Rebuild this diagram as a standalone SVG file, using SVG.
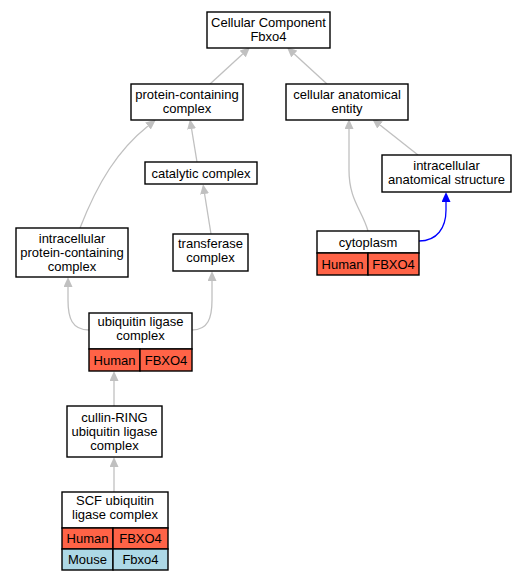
<svg xmlns="http://www.w3.org/2000/svg" width="527" height="581" viewBox="0 0 527 581">
<defs>
<style>
.box{fill:#fff;stroke:#000;stroke-width:1.4}
.hum{fill:#ff6347;stroke:#000;stroke-width:1.4}
.mou{fill:#add8e6;stroke:#000;stroke-width:1.4}
text{font-family:"Liberation Sans",Arial,sans-serif;font-size:13px;text-anchor:middle;fill:#000}
.e{fill:none;stroke:#c0c0c0;stroke-width:1.3;marker-end:url(#ag)}
.b{fill:none;stroke:#0000ff;stroke-width:1.3;marker-end:url(#ab)}
</style>
<marker id="ag" markerUnits="userSpaceOnUse" viewBox="0 0 10 9" refX="0" refY="4.5" markerWidth="10" markerHeight="9" orient="auto"><path d="M0,0 L10,4.5 L0,9 z" fill="#c0c0c0"/></marker>
<marker id="ab" markerUnits="userSpaceOnUse" viewBox="0 0 10 9" refX="0" refY="4.5" markerWidth="10" markerHeight="9" orient="auto"><path d="M0,0 L10,4.5 L0,9 z" fill="#0000ff"/></marker>
</defs>
<rect width="527" height="581" fill="#fff"/>
<g id="edges">
<path class="e" d="M210,84 L242.7,54"/>
<path class="e" d="M327,84 L294.3,54"/>
<path class="e" d="M197,162 L191.6,129"/>
<path class="e" d="M211,234 L204.6,194"/>
<path class="e" d="M80,228 C98,182 118,150 148,126"/>
<path class="e" d="M89,330 C72,330 68,318 68,300 L68,287"/>
<path class="e" d="M192,330 C208,330 212,318 212,300 L212,281"/>
<path class="e" d="M114,406 L114,381"/>
<path class="e" d="M114,492 L114,467"/>
<path class="e" d="M368,231 C362,210 349,200 349,170 L349,129"/>
<path class="e" d="M418,155 L380,125"/>
<path class="b" d="M419,241 C437,241 446,228 446,210 L446,202"/>
</g>
<g id="n_cc"><rect class="box" x="207" y="12" width="123" height="36"/><text x="268.5" y="27">Cellular Component</text><text x="268.5" y="41">Fbxo4</text></g>
<g id="n_pcc"><rect class="box" x="131" y="84" width="112" height="36"/><text x="187" y="99">protein-containing</text><text x="187" y="113">complex</text></g>
<g id="n_cae"><rect class="box" x="286" y="84" width="122" height="36"/><text x="347" y="99">cellular anatomical</text><text x="347" y="113">entity</text></g>
<g id="n_cat"><rect class="box" x="145" y="162" width="112" height="22"/><text x="201" y="177.5">catalytic complex</text></g>
<g id="n_ias"><rect class="box" x="382" y="155" width="129" height="37"/><text x="446.5" y="170">intracellular</text><text x="446.5" y="184">anatomical structure</text></g>
<g id="n_ipc"><rect class="box" x="16" y="228" width="112" height="49"/><text x="72" y="243">intracellular</text><text x="72" y="257">protein-containing</text><text x="72" y="271">complex</text></g>
<g id="n_tc"><rect class="box" x="173" y="234" width="75" height="37"/><text x="210.5" y="248">transferase</text><text x="210.5" y="262">complex</text></g>
<g id="n_cyt"><rect class="box" x="317" y="231" width="102" height="22"/><text x="368" y="246.5">cytoplasm</text><rect class="hum" x="317" y="253" width="51" height="22"/><text x="342.5" y="268.5">Human</text><rect class="hum" x="368" y="253" width="51" height="22"/><text x="393.5" y="268.5">FBXO4</text></g>
<g id="n_ulc"><rect class="box" x="89" y="313" width="103" height="36"/><text x="140.5" y="326">ubiquitin ligase</text><text x="140.5" y="340">complex</text><rect class="hum" x="89" y="349" width="51" height="22"/><text x="114.5" y="364.5">Human</text><rect class="hum" x="140" y="349" width="52" height="22"/><text x="166" y="364.5">FBXO4</text></g>
<g id="n_crl"><rect class="box" x="67" y="406" width="95" height="51"/><text x="114.5" y="422">cullin-RING</text><text x="114.5" y="436">ubiquitin ligase</text><text x="114.5" y="450">complex</text></g>
<g id="n_scf"><rect class="box" x="62" y="492" width="106" height="36"/><text x="115" y="505">SCF ubiquitin</text><text x="115" y="519">ligase complex</text><rect class="hum" x="62" y="528" width="51" height="21"/><text x="87.5" y="543">Human</text><rect class="hum" x="113" y="528" width="55" height="21"/><text x="140.5" y="543">FBXO4</text><rect class="mou" x="62" y="549" width="51" height="21"/><text x="87.5" y="564">Mouse</text><rect class="mou" x="113" y="549" width="55" height="21"/><text x="140.5" y="564">Fbxo4</text></g>
</svg>
